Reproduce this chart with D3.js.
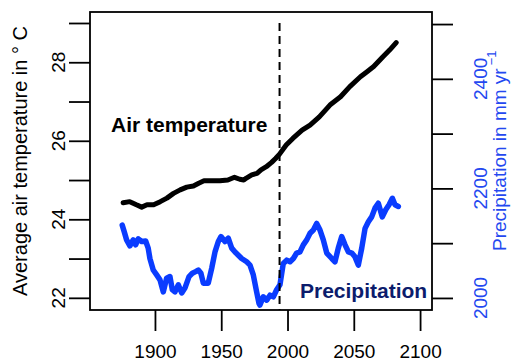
<!DOCTYPE html>
<html>
<head>
<meta charset="utf-8">
<script src="https://cdn.jsdelivr.net/npm/d3@7"></script>
<style>
  html, body { margin: 0; padding: 0; background: #fff; }
  svg { display: block; font-family: "Liberation Sans", Arial, Helvetica, sans-serif; }
</style>
</head>
<body>
<svg id="chart" width="519" height="362"></svg>
<script>
// ---- data ----
const tempYears = [1876, 1881, 1886, 1890, 1894, 1899, 1904, 1909, 1914, 1919, 1924, 1929, 1933, 1937, 1942, 1949, 1955, 1960, 1964, 1967, 1969, 1973, 1977, 1980, 1984, 1988, 1991, 1994, 1999, 2004, 2011, 2017, 2024, 2032, 2040, 2047, 2055, 2060, 2065, 2072, 2077, 2082];
const tempValues = [24.42, 24.45, 24.37, 24.31, 24.37, 24.37, 24.45, 24.54, 24.66, 24.75, 24.82, 24.85, 24.92, 24.98, 24.98, 24.98, 25.00, 25.07, 25.02, 25.00, 25.05, 25.13, 25.17, 25.26, 25.34, 25.45, 25.55, 25.66, 25.89, 26.06, 26.27, 26.40, 26.61, 26.91, 27.12, 27.38, 27.63, 27.76, 27.89, 28.14, 28.31, 28.50];

const precipYears = [1875.3, 1876.8, 1878.6, 1881.1, 1883.6, 1885.4, 1887.4, 1890.0, 1893.0, 1894.9, 1896.2, 1898.7, 1901.3, 1903.8, 1906.3, 1908.8, 1911.3, 1913.1, 1915.1, 1917.6, 1920.2, 1922.6, 1925.7, 1928.2, 1930.7, 1932.7, 1934.7, 1936.5, 1940.2, 1942.8, 1945.3, 1947.8, 1949.8, 1952.8, 1955.3, 1957.9, 1960.4, 1962.9, 1965.4, 1969.2, 1971.7, 1974.2, 1976.8, 1978.5, 1979.2, 1981.7, 1984.3, 1986.8, 1989.3, 1991.8, 1994.3, 1996.8, 1999.4, 2001.9, 2004.4, 2006.9, 2009.4, 2011.9, 2014.5, 2017.0, 2019.5, 2022.0, 2024.5, 2027.0, 2029.6, 2033.4, 2035.8, 2038.3, 2040.9, 2043.4, 2045.9, 2048.5, 2050.9, 2053.4, 2056.0, 2058.5, 2061.0, 2063.5, 2066.0, 2068.5, 2071.5, 2074.1, 2076.6, 2079.1, 2081.1, 2083.6];
const precipValues = [2133, 2121, 2106, 2095, 2106, 2097, 2108, 2103, 2104, 2091, 2072, 2051, 2042, 2033, 2011, 2036, 2039, 2015, 2011, 2024, 2009, 2018, 2039, 2045, 2048, 2051, 2045, 2027, 2027, 2054, 2084, 2103, 2112, 2103, 2109, 2091, 2084, 2078, 2072, 2066, 2060, 2042, 2010, 1990, 1987, 2002, 1996, 2005, 2002, 2015, 2024, 2063, 2069, 2066, 2072, 2082, 2084, 2097, 2106, 2118, 2124, 2136, 2124, 2106, 2082, 2072, 2066, 2091, 2112, 2097, 2084, 2082, 2075, 2060, 2091, 2127, 2139, 2148, 2164, 2173, 2148, 2161, 2170, 2182, 2170, 2167];

const xTicks = [1900, 1950, 2000, 2050, 2100];
const tempTicks = [22, 23, 24, 25, 26, 27, 28, 29];
const tempTickLabels = [22, 24, 26, 28];
const precipTicks = [2000, 2100, 2200, 2300, 2400, 2500];
const precipTickLabels = [2000, 2200, 2400];
const dividerYear = 1994;
const dividerTop = 29;

const leftTitle = "Average air temperature in \u00B0 C";
const rightTitle = "Precipitation in mm yr";
const rightTitleSup = "\u22121";
const tempLabel = "Air temperature";
const precipLabel = "Precipitation";

// ---- layout ----
const box = { left: 90, right: 432, top: 12, bottom: 310 };
const blue = "#0a3cff";
const blueText = "#2448f0";
const navy = "#0c1c6c";

const x = d3.scaleLinear().domain([1851, 2109]).range([box.left, box.right]);
const yT = d3.scaleLinear().domain([21.69, 29.28]).range([box.bottom, box.top]);
const yP = d3.scaleLinear().domain([1978, 2522]).range([box.bottom, box.top]);

const svg = d3.select("#chart");

// precipitation line
const precipData = precipYears.map((yr, i) => ({ yr, v: precipValues[i] }));
svg.append("path")
  .datum(precipData)
  .attr("fill", "none")
  .attr("stroke", blue)
  .attr("stroke-width", 5.5)
  .attr("stroke-linejoin", "round")
  .attr("stroke-linecap", "round")
  .attr("d", d3.line().x(d => x(d.yr)).y(d => yP(d.v)));

// temperature line
const tempData = tempYears.map((yr, i) => ({ yr, v: tempValues[i] }));
svg.append("path")
  .datum(tempData)
  .attr("fill", "none")
  .attr("stroke", "#000")
  .attr("stroke-width", 5)
  .attr("stroke-linejoin", "round")
  .attr("stroke-linecap", "round")
  .attr("d", d3.line().x(d => x(d.yr)).y(d => yT(d.v)));

// dashed divider
svg.append("line")
  .attr("x1", x(dividerYear)).attr("x2", x(dividerYear))
  .attr("y1", yT(dividerTop)).attr("y2", box.bottom)
  .attr("stroke", "#000").attr("stroke-width", 2)
  .attr("stroke-dasharray", "8,5");

// box
svg.append("rect")
  .attr("x", box.left).attr("y", box.top)
  .attr("width", box.right - box.left).attr("height", box.bottom - box.top)
  .attr("fill", "none").attr("stroke", "#000").attr("stroke-width", 1.8);

// bottom axis
const gx = svg.append("g").attr("transform", `translate(0,${box.bottom})`)
  .call(d3.axisBottom(x).tickValues(xTicks).tickSize(21).tickPadding(14).tickFormat(d3.format("d")));
gx.select(".domain").remove();
gx.selectAll(".tick line").attr("stroke", "#000").attr("stroke-width", 1.8);
gx.selectAll(".tick text").attr("font-size", 19).attr("fill", "#000")
  .attr("font-family", "Liberation Sans, Arial, sans-serif");

// left axis
const gl = svg.append("g").attr("transform", `translate(${box.left},0)`)
  .call(d3.axisLeft(yT).tickValues(tempTicks).tickSize(21).tickFormat(""));
gl.select(".domain").remove();
gl.selectAll(".tick line").attr("stroke", "#000").attr("stroke-width", 1.8);
svg.append("g").selectAll("text").data(tempTickLabels).join("text")
  .attr("transform", d => `translate(65,${yT(d)}) rotate(-90)`)
  .attr("text-anchor", "middle")
  .attr("font-size", 19)
  .attr("fill", "#000")
  .text(d => d);

// right axis
const gr = svg.append("g").attr("transform", `translate(${box.right},0)`)
  .call(d3.axisRight(yP).tickValues(precipTicks).tickSize(21).tickFormat(""));
gr.select(".domain").remove();
gr.selectAll(".tick line").attr("stroke", "#000").attr("stroke-width", 1.8);
svg.append("g").selectAll("text").data(precipTickLabels).join("text")
  .attr("transform", d => `translate(487,${yP(d)}) rotate(-90)`)
  .attr("text-anchor", "middle")
  .attr("font-size", 19)
  .attr("fill", blueText)
  .text(d => d);

// axis titles
svg.append("text")
  .attr("transform", `translate(27,161) rotate(-90)`)
  .attr("text-anchor", "middle")
  .attr("font-size", 20)
  .attr("fill", "#000")
  .text(leftTitle);

const rt = svg.append("text")
  .attr("transform", `translate(506,251) rotate(-90)`)
  .attr("text-anchor", "start")
  .attr("font-size", 19)
  .attr("fill", blueText);
rt.append("tspan").text(rightTitle);
rt.append("tspan").attr("font-size", 13).attr("dy", -10).attr("dx", 3).text(rightTitleSup);

// in-plot labels
svg.append("text")
  .attr("x", 111).attr("y", 132)
  .attr("font-size", 21).attr("font-weight", "bold").attr("fill", "#000")
  .text(tempLabel);
svg.append("text")
  .attr("x", 300).attr("y", 298)
  .attr("font-size", 21).attr("font-weight", "bold").attr("fill", navy)
  .text(precipLabel);
</script>
</body>
</html>
